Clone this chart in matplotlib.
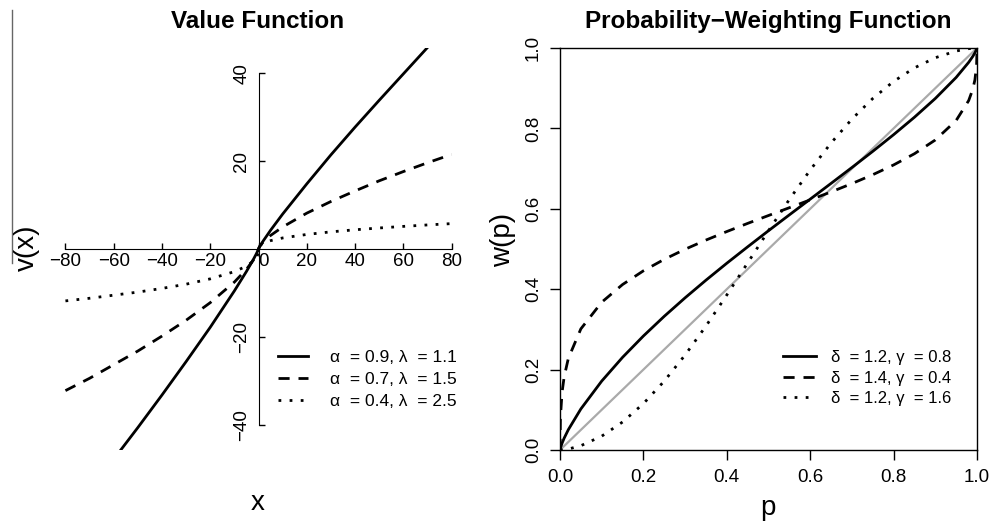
import matplotlib
matplotlib.use("Agg")
import matplotlib.pyplot as plt
import matplotlib.transforms as mtransforms
from matplotlib.lines import Line2D

plt.rcParams['font.family'] = ['Liberation Sans', 'DejaVu Sans']

# value function: outcomes x and v(x)
x_vals = [-80, -70, -60, -50, -40, -30, -20, -10, -5, -2, -1, -0.5, -0.1, 0,
          0.1, 0.5, 1, 2, 5, 10, 20, 30, 40, 50, 60, 70, 80]
v_a09 = [-61.9, -54.9, -47.8, -40.6, -33.2, -25.6, -17.8, -9.53, -5.11, -2.24, -1.2, -0.643, -0.151, 0,
         0.126, 0.536, 1, 1.87, 4.26, 7.94, 14.8, 21.4, 27.7, 33.8, 39.8, 45.8, 51.6]
v_a07 = [-32.2, -29.4, -26.3, -23.2, -19.8, -16.2, -12.2, -7.52, -4.62, -2.43, -1.5, -0.924, -0.299, 0,
         0.1995, 0.616, 1, 1.62, 3.08, 5.01, 8.15, 10.8, 13.2, 15.5, 17.6, 19.6, 21.5]
v_a04 = [-11.8, -11.2, -10.5, -9.80, -8.96, -8.00, -6.79, -5.15, -3.90, -2.71, -2.05, -1.55, -0.82, 0,
         0.398, 0.758, 1, 1.32, 1.90, 2.51, 3.31, 3.90, 4.37, 4.78, 5.14, 5.47, 5.77]
value_labels = ["α  = 0.9, λ  = 1.1", "α  = 0.7, λ  = 1.5", "α  = 0.4, λ  = 2.5"]

# probability weighting: p and w(p)
p_vals = [0, 0.001, 0.005, 0.01, 0.02, 0.05, 0.1, 0.15, 0.2, 0.25, 0.3, 0.35, 0.4, 0.45, 0.5,
          0.55, 0.6, 0.65, 0.7, 0.75, 0.8, 0.85, 0.9, 0.95, 0.98, 0.99, 0.995, 0.999, 1]
w_d12_g08 = [0, 0.0048, 0.0171, 0.0295, 0.0506, 0.1021, 0.1714, 0.2305, 0.2836, 0.3326, 0.3786, 0.4224,
             0.4646, 0.5054, 0.5455, 0.5849, 0.6240, 0.6632, 0.7027, 0.7429, 0.7844, 0.8278, 0.8744,
             0.9268, 0.9643, 0.9793, 0.9881, 0.9967, 1]
w_d14_g04 = [0, 0.0812, 0.1442, 0.1822, 0.2279, 0.3013, 0.3676, 0.4116, 0.4457, 0.4743, 0.4994, 0.5222,
             0.5434, 0.5637, 0.5833, 0.6027, 0.6222, 0.6420, 0.6627, 0.6848, 0.7091, 0.7370, 0.7712,
             0.8197, 0.8691, 0.8979, 0.9208, 0.9569, 1]
w_d12_g16 = [0, 0.00002, 0.00025, 0.00076, 0.00236, 0.0107, 0.0344, 0.0696, 0.1154, 0.1714, 0.2363,
             0.3083, 0.3856, 0.4654, 0.5455, 0.6232, 0.6965, 0.7637, 0.8231, 0.8744, 0.9169, 0.9506,
             0.9758, 0.9925, 0.9984, 0.9995, 0.9998, 1.0, 1]
weight_labels = ["δ  = 1.2, γ  = 0.8", "δ  = 1.4, γ  = 0.4", "δ  = 1.2, γ  = 1.6"]
identity = [0.0, 1.0]

W, H = 990, 521
fig = plt.figure(figsize=(9.9, 5.21), dpi=100)

def fx(px):
    return px / W

def fy(py):
    return 1 - py / H

styles = [dict(linestyle='-'), dict(dashes=(4, 3.2)), dict(dashes=(1, 3))]

# ---- left panel
ax1 = fig.add_axes([fx(50), fy(450), fx(417), 402 / H])
ax1.set_xlim(-86.4, 86.4)
ax1.set_ylim(-45.7, 45.7)
for y, lab, st in zip([v_a09, v_a07, v_a04], value_labels, styles):
    ax1.plot(x_vals, y, color='black', lw=2, label=lab, **st)
ax1.spines['left'].set_position(('data', 0))
ax1.spines['bottom'].set_position(('data', 0))
ax1.spines['top'].set_visible(False)
ax1.spines['right'].set_visible(False)
ax1.spines['left'].set_bounds(-40, 40)
ax1.spines['bottom'].set_bounds(-80, 80)
ax1.set_xticks(range(-80, 81, 20))
ax1.set_yticks([-40, -20, 20, 40])
ax1.tick_params(direction='in', length=4, width=1, labelsize=13.5)
ax1.tick_params(axis='x', pad=3)
ax1.tick_params(axis='y', pad=6)
for t in ax1.get_yticklabels():
    t.set_rotation(90)
    t.set_va('center')
# the "0" label sits just right of the vertical axis
fig.canvas.draw()
for t in ax1.get_xticklabels():
    if t.get_text() == "0":
        t.set_transform(t.get_transform() + mtransforms.ScaledTranslation(5 / 100, 0, fig.dpi_scale_trans))
ax1.legend(loc='upper left', bbox_to_anchor=(fx(278), fy(350)), bbox_transform=fig.transFigure,
           frameon=False, fontsize=12.5, borderpad=0, borderaxespad=0, handlelength=1.75,
           handletextpad=1.25, labelspacing=0.38)

# ---- right panel
ax2 = fig.add_axes([fx(560), fy(450), fx(417), 402 / H])
ax2.plot(identity, identity, color='#aaaaaa', lw=1.6)
for y, lab, st in zip([w_d12_g08, w_d14_g04, w_d12_g16], weight_labels, styles):
    ax2.plot(p_vals, y, color='black', lw=2, label=lab, **st)
ax2.set_xlim(0, 1)
ax2.set_ylim(0, 1)
ax2.set_xticks([0, 0.2, 0.4, 0.6, 0.8, 1.0])
ax2.set_yticks([0, 0.2, 0.4, 0.6, 0.8, 1.0])
ax2.xaxis.set_major_formatter(plt.FormatStrFormatter('%.1f'))
ax2.yaxis.set_major_formatter(plt.FormatStrFormatter('%.1f'))
ax2.tick_params(direction='out', length=7, width=1, labelsize=13.5)
ax2.tick_params(axis='x', pad=7)
ax2.tick_params(axis='y', pad=6)
for t in ax2.get_yticklabels():
    t.set_rotation(90)
    t.set_va('center')
for s in ax2.spines.values():
    s.set_linewidth(1)
ax2.legend(loc='upper left', bbox_to_anchor=(fx(783), fy(350)), bbox_transform=fig.transFigure,
           frameon=False, fontsize=12, borderpad=0, borderaxespad=0, handlelength=2.0,
           handletextpad=0.9, labelspacing=0.33)

# titles and axis labels
fig.text(fx(258), fy(28), "Value Function", ha='center', va='baseline', fontsize=17.5, fontweight='bold')
fig.text(fx(768), fy(28), "Probability−Weighting Function", ha='center', va='baseline',
         fontsize=17.5, fontweight='bold')
fig.text(fx(258), fy(510), "x", ha='center', va='baseline', fontsize=20)
fig.text(fx(768), fy(515), "p", ha='center', va='baseline', fontsize=20)
fig.text(fx(27), fy(248), "v(x)", ha='center', va='center', fontsize=20, rotation=90)
fig.text(fx(503), fy(240), "w(p)", ha='center', va='center', fontsize=20, rotation=90)

# thin rule at the far left edge
fig.add_artist(Line2D([fx(12), fx(12)], [fy(10), fy(263)], color='#666666', lw=1))

fig.savefig("out.png", dpi=100)
